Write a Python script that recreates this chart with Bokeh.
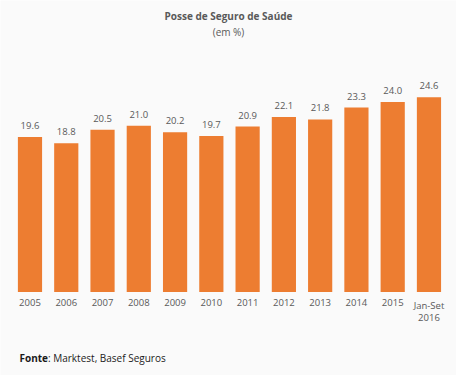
import numpy as np
from bokeh.plotting import figure
from bokeh.models import ColumnDataSource, Label, Range1d
from bokeh.core.properties import value
from bokeh.embed import file_html
from bokeh.resources import INLINE

categories = ["2005", "2006", "2007", "2008", "2009", "2010", "2011", "2012",
              "2013", "2014", "2015", "Jan-Set\n2016"]
values = [19.6, 18.8, 20.5, 21.0, 20.2, 19.7, 20.9, 22.1, 21.8, 23.3, 24.0, 24.6]
value_labels = [f"{v:.1f}" for v in values]

title_text = "Posse de Seguro de Saúde"
subtitle_text = "(em %)"
source_bold = "Fonte"
source_text = ": Marktest, Basef Seguros"

FONT = "Open Sans"
BG = "#FAFAFA"
GREY = "#595959"

xpos = np.arange(len(categories))
src = ColumnDataSource(dict(x=xpos, cat=categories, val=values, lab=value_labels,
                            zero=[0] * len(values)))

W, H = 456, 375
p = figure(x_range=Range1d(-0.813, 11.759), y_range=Range1d(-10.53, 36.82),
           width=W, height=H, output_backend="svg", toolbar_location=None,
           min_border=0, min_border_left=0, min_border_right=0,
           min_border_top=0, min_border_bottom=0)
p.background_fill_color = BG
p.border_fill_color = BG
p.outline_line_color = None
p.grid.visible = False
p.axis.visible = False

p.vbar(x="x", top="val", width=0.667, source=src, color="#ED7D31", line_color=None)
p.text(x="x", y="val", text="lab", source=src, y_offset=-8, text_align="center",
       text_baseline="bottom", text_font=value(FONT), text_font_size="9.5px", text_color=GREY)
# category labels under the bars
p.text(x="x", y="zero", text="cat", source=src, y_offset=7, text_align="center",
       text_baseline="top", text_font=value(FONT), text_font_size="9.5px",
       text_color=GREY, text_line_height=0.9)

p.add_layout(Label(x=228, y=360, x_units="screen", y_units="screen", text=title_text,
                   text_align="center", text_baseline="middle", text_font=FONT,
                   text_font_style="bold", text_font_size="10px", text_color=GREY))
p.add_layout(Label(x=228, y=344, x_units="screen", y_units="screen", text=subtitle_text,
                   text_align="center", text_baseline="middle", text_font=FONT,
                   text_font_size="10px", text_color=GREY))
p.add_layout(Label(x=19, y=18, x_units="screen", y_units="screen", text=source_bold,
                   text_align="left", text_baseline="middle", text_font=FONT,
                   text_font_style="bold", text_font_size="10px", text_color="#1a1a1a"))
p.add_layout(Label(x=47.5, y=18, x_units="screen", y_units="screen", text=source_text,
                   text_align="left", text_baseline="middle", text_font=FONT,
                   text_font_size="10px", text_color="#1a1a1a"))

open("out.html", "w").write(file_html(p, INLINE))
